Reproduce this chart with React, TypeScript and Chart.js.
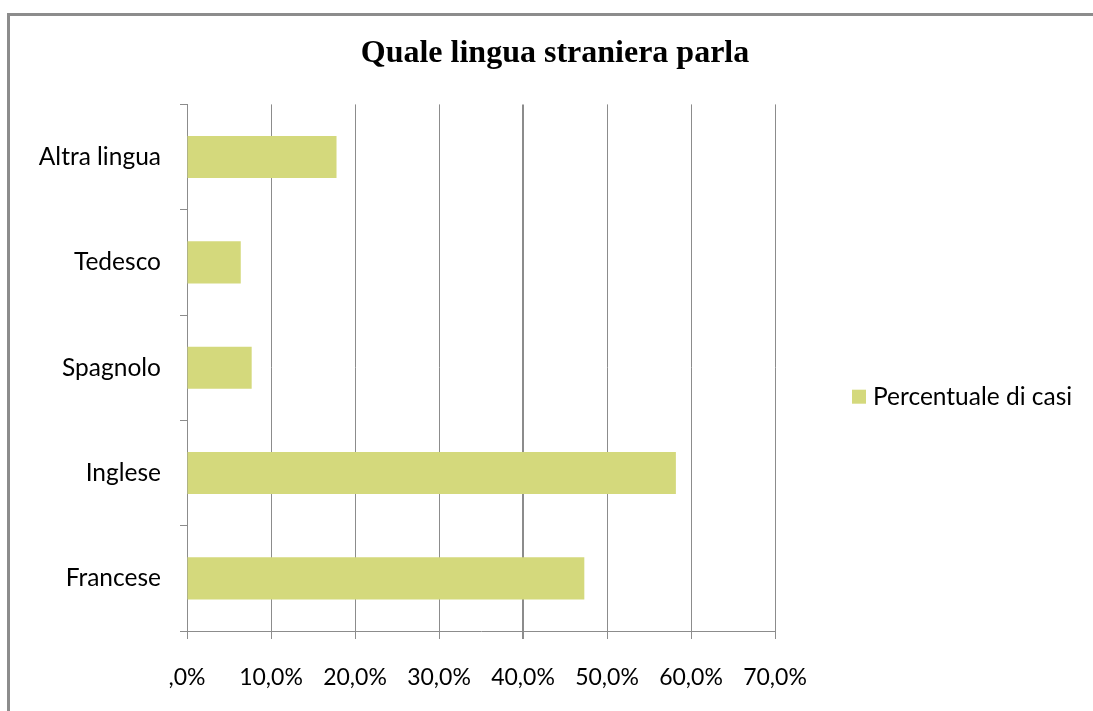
import React, { useEffect, useRef } from "react";
import { Chart, registerables } from "chart.js";

Chart.register(...registerables);

const TITLE = "Quale lingua straniera parla";
const SERIES_LABEL = "Percentuale di casi";
const CATEGORIES = ["Francese", "Inglese", "Spagnolo", "Tedesco", "Altra lingua"];
const VALUES = [47.3, 58.2, 7.7, 6.4, 17.8];
const X_TICK_LABELS = [",0%", "10,0%", "20,0%", "30,0%", "40,0%", "50,0%", "60,0%", "70,0%"];

const BAR_COLOR = "#d4d97c";
const GRID_COLOR = "#8c8c8c";
const TEXT_FONT = "Lato";

const sideLegend = {
  id: "sideLegend",
  afterDraw(chart: any) {
    const { ctx, chartArea } = chart;
    const ds = chart.data.datasets[0];
    const x = chartArea.right + 77;
    const y = (chartArea.top + chartArea.bottom) / 2 + 29;
    ctx.save();
    ctx.fillStyle = ds.backgroundColor;
    ctx.fillRect(x, y - 7, 14, 14);
    ctx.fillStyle = "#000";
    ctx.font = `24.5px ${TEXT_FONT}`;
    ctx.textBaseline = "middle";
    ctx.textAlign = "left";
    ctx.fillText(ds.label, x + 21, y);
    ctx.restore();
  },
};

export default function App() {
  const ref = useRef<HTMLCanvasElement | null>(null);

  useEffect(() => {
    document.documentElement.style.overflow = "hidden";
    document.body.style.overflow = "hidden";
    const canvas = ref.current!;
    const chart = new Chart(canvas, {
      type: "bar",
      data: {
        labels: CATEGORIES,
        datasets: [
          {
            label: SERIES_LABEL,
            data: VALUES,
            backgroundColor: BAR_COLOR,
            borderWidth: 0,
            categoryPercentage: 1,
            barPercentage: 0.4,
          },
        ],
      },
      options: {
        indexAxis: "y",
        responsive: false,
        animation: false,
        devicePixelRatio: 1,
        layout: { padding: { left: 17, right: 0, top: 20, bottom: 0 } },
        plugins: {
          legend: { display: false },
          tooltip: { enabled: false },
          title: {
            display: true,
            text: TITLE,
            color: "#000",
            font: { family: "Liberation Serif", weight: "bold", size: 32 },
            padding: { top: 15, bottom: 31 },
          },
        },
        scales: {
          x: {
            type: "linear",
            min: 0,
            max: 70,
            ticks: {
              stepSize: 10,
              color: "#000",
              font: { family: TEXT_FONT, size: 23 },
              padding: 25,
              callback: (_v: any, i: number) => X_TICK_LABELS[i],
            },
            grid: {
              color: GRID_COLOR,
              lineWidth: (c: any) => (c.tick && c.tick.value === 40 ? 2 : 1),
              tickLength: 8,
            },
            border: { color: GRID_COLOR, width: 1 },
            afterFit: (s: any) => {
              s.height = 80;
            },
          },
          y: {
            type: "category",
            reverse: true,
            offset: true,
            ticks: {
              color: "#000",
              font: { family: TEXT_FONT, size: 24.5 },
              padding: 19,
            },
            grid: {
              offset: true,
              drawOnChartArea: false,
              color: GRID_COLOR,
              tickLength: 7,
            },
            border: { color: GRID_COLOR, width: 1 },
            afterFit: (s: any) => {
              s.width = 170;
            },
          },
          legendSpace: {
            type: "linear",
            position: "right",
            display: true,
            grid: { display: false },
            ticks: { display: false },
            border: { display: false },
            afterFit: (s: any) => {
              s.width = 318;
            },
          },
        },
      } as any,
      plugins: [sideLegend],
    });
    return () => chart.destroy();
  }, []);

  return (
    <div>
      <canvas
        ref={ref}
        width={1093}
        height={711}
        style={{ position: "absolute", left: 0, top: 0, width: 1093, height: 711 }}
      />
      <div
        style={{
          position: "absolute",
          left: 7,
          top: 13,
          width: 1086,
          height: 698,
          boxSizing: "border-box",
          borderTop: "3px solid #8c8c8c",
          borderLeft: "3px solid #8c8c8c",
          pointerEvents: "none",
        }}
      />
    </div>
  );
}
